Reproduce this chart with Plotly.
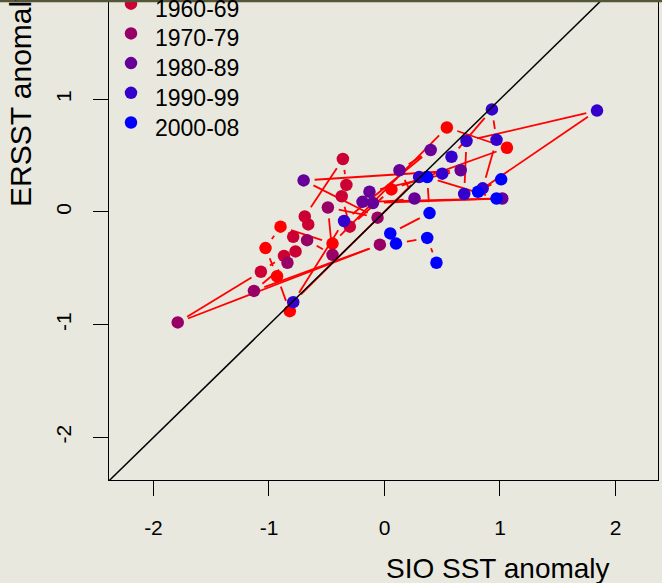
import plotly.graph_objects as go

# Annual SST anomalies, in time order, with the decade of each year
decades = ["1950-59", "1960-69", "1970-79", "1980-89", "1990-99", "2000-08"]
decade_colors = ["#FF0000", "#CC0033", "#990066", "#660099", "#3300CC", "#0000FF"]

sio = [
    -0.82, -0.93, -1.03, -0.90, -0.45, 0.54, 1.06, 0.06,
    -0.30, -0.37, -0.33, -0.36, -0.69, -0.66, -0.79, -0.77, -0.87, -1.07,
    -1.79, -0.04, -1.13, -0.84, -0.67, -0.45, -0.49, -0.06,
    -0.70, 0.66, -0.13, -0.19, 1.02, -0.10, 0.26, 0.13, 0.40,
    -0.35, -0.79, 0.30, 0.50, 0.58, 0.93, 0.97, 0.85, 0.69, 0.71, 1.84,
    0.81, 1.01, 0.97, 0.37, 0.39, 0.05, 0.10, 0.37, 0.45,
]
ersst = [
    -0.88, -0.57, -0.32, -0.13, -0.28, 0.75, 0.57, 0.20,
    -0.13, 0.14, 0.24, 0.47, -0.04, -0.11, -0.22, -0.35, -0.39, -0.53,
    -0.98, -0.29, -0.70, -0.45, -0.25, -0.38, 0.04, -0.05,
    0.28, 0.37, 0.18, 0.09, 0.12, 0.08, 0.12, 0.37, 0.55,
    -0.08, -0.80, 0.31, 0.34, 0.49, 0.91, 0.64, 0.21, 0.16, 0.63, 0.90,
    0.18, 0.29, 0.12, 0.31, -0.01, -0.19, -0.28, -0.23, -0.45,
]
decade_of = (
    ["1950-59"] * 8 + ["1960-69"] * 10 + ["1970-79"] * 8
    + ["1980-89"] * 9 + ["1990-99"] * 11 + ["2000-08"] * 9
)

x_ticks = [-2, -1, 0, 1, 2]
y_ticks = [-2, -1, 0, 1]
x_tick_text = ["-2", "-1", "0", "1", "2"]
y_tick_text = ["-2", "-1", "0", "1"]

# Canvas / plot-region geometry (pixels)
W, H = 662, 583
L_PX, R_PX, T_PX, B_PX = 109, 658, 0, 480
x_range = [-2.385, 2.368]
y_range = [-2.378, 1.881]
px_per_x = (R_PX - L_PX) / (x_range[1] - x_range[0])
px_per_y = (B_PX - T_PX) / (y_range[1] - y_range[0])

FONT = "Liberation Sans, Arial, Helvetica, sans-serif"
BG = "#E8E8DE"


def paper_x(px):
    return (px - L_PX) / (R_PX - L_PX)


def paper_y(py):
    return 1 - (py - T_PX) / (B_PX - T_PX)


# Connecting line between successive years, with a gap at every point
GAP = 11
lx, ly = [], []
for i in range(len(sio) - 1):
    x0, y0, x1, y1 = sio[i], ersst[i], sio[i + 1], ersst[i + 1]
    seg = ((x1 - x0) * px_per_x) ** 2 + ((y1 - y0) * px_per_y) ** 2
    seg = seg ** 0.5
    if seg <= 2 * GAP:
        continue
    f = GAP / seg
    lx += [x0 + f * (x1 - x0), x1 - f * (x1 - x0), None]
    ly += [y0 + f * (y1 - y0), y1 - f * (y1 - y0), None]

fig = go.Figure()
fig.add_trace(go.Scatter(
    x=lx, y=ly, mode="lines",
    line=dict(color="#FF0000", width=1.8),
    hoverinfo="skip", showlegend=False,
))

color_of = dict(zip(decades, decade_colors))
fig.add_trace(go.Scatter(
    x=sio, y=ersst, mode="markers",
    marker=dict(size=12.5, color=[color_of[d] for d in decade_of], line=dict(width=0)),
    showlegend=False,
))

# 1:1 reference line
fig.add_trace(go.Scatter(
    x=[-3, 3], y=[-3, 3], mode="lines",
    line=dict(color="black", width=1.5),
    hoverinfo="skip", showlegend=False,
))

# Legend keys drawn on a pixel-scaled overlay axis
leg_x = 131
leg_y0, leg_dy = -26, 29.7
leg_rows = [leg_y0 + k * leg_dy for k in range(len(decades))]
fig.add_trace(go.Scatter(
    x=[leg_x] * len(decades), y=leg_rows, mode="markers",
    marker=dict(size=12.5, color=decade_colors, line=dict(width=0)),
    xaxis="x2", yaxis="y2", cliponaxis=False, showlegend=False,
))

annotations = []
for lab, ry in zip(decades, leg_rows):
    annotations.append(dict(
        text=lab, x=paper_x(153), y=paper_y(ry + 5), xref="paper", yref="paper",
        xanchor="left", yanchor="middle", showarrow=False,
        font=dict(family=FONT, size=23, color="black"),
    ))

annotations.append(dict(
    text="SIO SST anomaly", x=paper_x(498), y=paper_y(568), xref="paper", yref="paper",
    xanchor="center", yanchor="middle", showarrow=False,
    font=dict(family=FONT, size=28, color="black"),
))
annotations.append(dict(
    text="ERSST anomaly", x=paper_x(20), y=paper_y(97), xref="paper", yref="paper",
    xanchor="center", yanchor="middle", showarrow=False, textangle=-90,
    font=dict(family=FONT, size=30, color="black"),
))

axis_common = dict(
    showgrid=False, zeroline=False, showline=True, linecolor="black", linewidth=1.3,
    ticks="outside", ticklen=15, tickwidth=1.3, tickcolor="black",
    tickfont=dict(family=FONT, size=21, color="black"),
)

fig.update_layout(
    width=W, height=H,
    margin=dict(l=L_PX, r=W - R_PX, t=T_PX, b=H - B_PX),
    paper_bgcolor=BG, plot_bgcolor=BG,
    xaxis=dict(range=x_range, tickvals=x_ticks, ticktext=x_tick_text,
               ticklabelstandoff=14, mirror=False, **axis_common),
    yaxis=dict(range=y_range, tickvals=y_ticks, ticktext=y_tick_text, tickangle=-90,
               ticklabelstandoff=13, mirror=True, **axis_common),
    xaxis2=dict(range=[L_PX, R_PX], overlaying="x", visible=False, fixedrange=True),
    yaxis2=dict(range=[B_PX, T_PX], overlaying="y", visible=False, fixedrange=True),
    annotations=annotations,
    shapes=[dict(
        type="rect", xref="paper", yref="paper",
        x0=paper_x(0), x1=paper_x(W), y0=paper_y(2.2), y1=paper_y(-1),
        fillcolor="#55553A", line=dict(width=0), layer="above",
    )],
    showlegend=False,
)

fig.write_html("out.html")
